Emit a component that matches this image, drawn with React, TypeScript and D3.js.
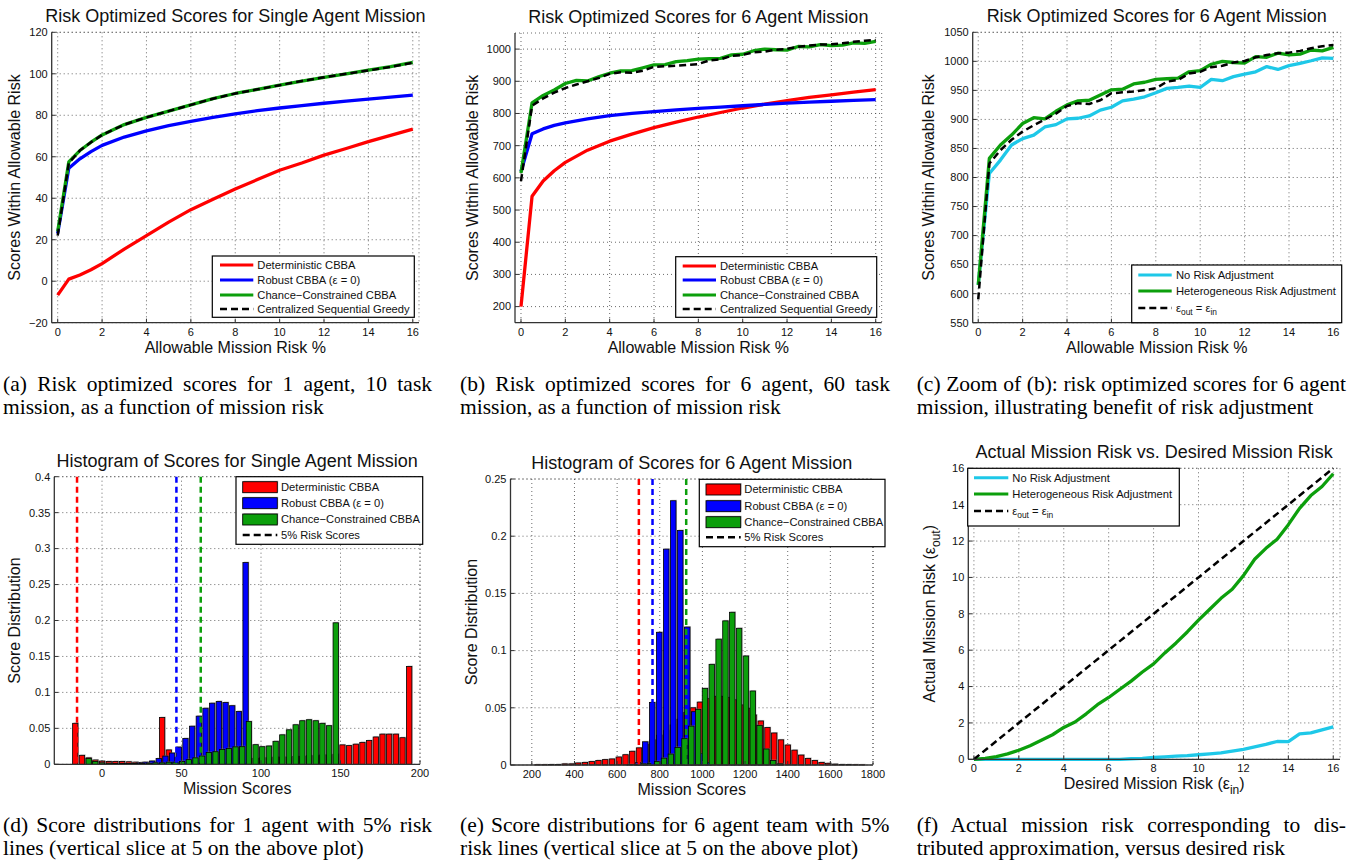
import React, { useLayoutEffect, useRef, useState } from "react"
import * as d3 from "d3"

const SANS = "'Liberation Sans', Arial, Helvetica, sans-serif"
const SERIF = "'Liberation Serif', 'Times New Roman', Times, serif"

const RED = "#ff0000"
const BLUE = "#0000ff"
const GREEN = "#0c9f0c"
const CYAN = "#1ec8e8"

// ---------- line plot data ----------
// coarse grid used for the smooth curves of (a) and (b)
const riskCoarse = [0, 0.5, 1, 1.5, 2, 3, 4, 5, 6, 7, 8, 9, 10, 11, 12, 13, 14, 15, 16]
// half-percent grid used for the jagged curves of (b), (c), (f)
const riskFine = [0, 0.5, 1, 1.5, 2, 2.5, 3, 3.5, 4, 4.5, 5, 5.5, 6, 6.5, 7, 7.5, 8, 8.5, 9, 9.5, 10, 10.5, 11, 11.5, 12, 12.5, 13, 13.5, 14, 14.5, 15, 15.5, 16]

// (a) single agent
const detCBBA1 = [-6.7, 1, 3, 5.5, 8.5, 15.5, 22, 28.5, 34.5, 39.5, 44.5, 49, 53.5, 57, 60.8, 64, 67.3, 70.3, 73.3]
const robCBBA1 = [23, 54.5, 59, 62.5, 65.5, 69.5, 72.5, 75, 77, 79, 80.7, 82.2, 83.5, 84.7, 85.8, 86.8, 87.8, 88.8, 89.7]
const ccCBBA1 = [24, 57.5, 63, 67, 70.5, 75.5, 79, 82, 85, 88, 90.5, 92.5, 94.5, 96.5, 98.3, 100, 101.8, 103.5, 105.5]
const csg1 = [22, 57, 63, 67, 70.5, 75.5, 79, 82, 85, 88, 90.5, 92.5, 94.5, 96.5, 98.3, 100, 101.6, 103.3, 105.3]

// (b) / (c) six agents
const detCBBA6 = [200, 543, 590, 622, 648, 686, 714, 736, 756, 773, 789, 803, 817, 829, 840, 850, 858, 866, 874]
const robCBBA6 = [620, 737, 752, 763, 771, 783, 793, 800, 806, 811, 816, 820, 824, 828, 832, 835, 838, 841, 843]
const ccCBBA6 = [615, 833, 856, 873, 893, 903, 901, 914, 925, 932, 933, 942, 951, 952, 961, 964, 969, 970, 971, 982, 984, 995, 1000, 998, 997, 1008, 1007, 1014, 1011, 1012.5, 1019.5, 1018, 1024]
const csg6 = [590, 824, 847, 865, 879, 890, 900, 910, 923, 928, 926.5, 933, 945, 946.7, 948, 950.6, 953.6, 965, 968, 979, 982, 990, 992.5, 998, 1000.6, 1007, 1011, 1014, 1015, 1018, 1022.5, 1026, 1028]
const noAdj6 = [615, 807, 830, 856, 867, 873, 887, 891, 901, 902, 906, 916, 921, 932, 935, 939, 946, 953.5, 955, 957.5, 955, 969, 966.7, 973.6, 978, 982, 991, 986, 992.6, 996.6, 1001, 1006, 1005]

// (f) actual vs desired risk
const noAdjRisk = [0, 0, 0, 0, 0, 0, 0, 0, 0, 0, 0, 0, 0, 0, 0.03, 0.05, 0.1, 0.13, 0.17, 0.2, 0.25, 0.3, 0.35, 0.45, 0.55, 0.68, 0.82, 0.98, 0.97, 1.4, 1.45, 1.62, 1.78]
const hetAdjRisk = [0, 0.05, 0.15, 0.3, 0.5, 0.75, 1.05, 1.35, 1.75, 2.05, 2.5, 3.0, 3.4, 3.85, 4.3, 4.8, 5.25, 5.85, 6.4, 7.0, 7.65, 8.25, 8.85, 9.35, 10.1, 11.0, 11.6, 12.1, 12.9, 13.8, 14.5, 15.0, 15.7]
const idealX = [0, 16]
const idealY = [0, 16]

// ---------- histogram data ----------
// (d) single agent: bins of width 4.2, first bin centre given
const binW1 = 4.2
const detStart1 = -16.8
const detHist1 = [0.057, 0.0125, 0.009, 0.006, 0.0045, 0.004, 0.004, 0.004, 0.0035, 0.003, 0.0025, 0.002, 0.003, 0.065, 0.02, 0.009,
  0.003, 0.005, 0.006, 0.007, 0.007, 0.008, 0.008, 0.008, 0.008, 0.008, 0.008, 0.008, 0.009, 0.009, 0.01, 0.01, 0.01, 0.011, 0.011, 0.012, 0.012, 0.013, 0.013, 0.014,
  0.027, 0.026, 0.028, 0.0305, 0.033, 0.038, 0.042, 0.042, 0.042, 0.037, 0.136]
const robStart1 = 14.7
const robHist1 = [0.001, 0.001, 0.002, 0.003, 0.0046, 0.008, 0.0115, 0.0157, 0.024, 0.036, 0.053, 0.067, 0.078, 0.085, 0.0875, 0.086, 0.0815, 0.0736, 0.2806]
const ccStart1 = -8.4
const ccHist1 = [0.008, 0.004, 0.002, 0.0015, 0.001, 0.001, 0.001, 0.001, 0.001, 0.0015, 0.002, 0.002, 0.003, 0.003, 0.004, 0.0065, 0.009, 0.0115,
  0.0165, 0.0175, 0.0205, 0.022, 0.0243, 0.0245, 0.0595, 0.0273, 0.0245, 0.0255, 0.032, 0.041, 0.048, 0.055, 0.0606, 0.062, 0.0606, 0.057, 0.0537, 0.1968]
const risk5Lines1 = [-15.7, 46.8, 62.1]

// (e) six agents
const detStart6 = 227.2
const detW6 = 31.7
const detHist6 = [0.0003, 0.0003, 0.0004, 0.0005, 0.001, 0.001, 0.0018, 0.0023, 0.003, 0.004, 0.0047, 0.0053, 0.007, 0.009, 0.012, 0.015, 0.018, 0.022, 0.026, 0.03,
  0.035, 0.04, 0.046, 0.05, 0.055, 0.058, 0.06, 0.06, 0.059, 0.057, 0.0525, 0.0496, 0.0437, 0.0385, 0.0327, 0.028, 0.022, 0.0175, 0.013, 0.0087,
  0.0058, 0.004, 0.0023, 0.0015, 0.0008, 0.0005, 0.0004, 0.0003, 0.0002]
const robStart6 = 699.2
const robW6 = 32.8
const robHist6 = [0.002, 0.0203, 0.0547, 0.116, 0.1887, 0.231, 0.205, 0.1206, 0.0466, 0.01, 0.002]
const ccStart6 = 660
const ccW6 = 32
const ccHist6 = [0.0003, 0.0006, 0.001, 0.0015, 0.003, 0.006, 0.0096, 0.0154, 0.023, 0.034, 0.0487, 0.067, 0.088, 0.11, 0.126, 0.1335, 0.1195, 0.0953, 0.0647, 0.0347, 0.014, 0.004, 0.001]
const risk5Lines6 = [702, 766, 924]

// ---------- ticks ----------
const riskTicks = [0, 2, 4, 6, 8, 10, 12, 14, 16]
const yTicksA = [-20, 0, 20, 40, 60, 80, 100, 120]
const yTicksB = [200, 300, 400, 500, 600, 700, 800, 900, 1000]
const yTicksC = [550, 600, 650, 700, 750, 800, 850, 900, 950, 1000, 1050]
const xTicksD = [0, 50, 100, 150, 200]
const yTicksD = [0, 0.05, 0.1, 0.15, 0.2, 0.25, 0.3, 0.35, 0.4]
const xTicksE = [200, 400, 600, 800, 1000, 1200, 1400, 1600, 1800]
const yTicksE = [0, 0.05, 0.1, 0.15, 0.2, 0.25]

const fmt = (v: number) => (v < 0 ? "\u2212" + Math.abs(v) : String(+v.toFixed(2)))

type Box = { l: number; r: number; t: number; b: number }
type Scale = d3.ScaleLinear<number, number>

function Grid({ box, x, y, xTicks, yTicks }: { box: Box; x: Scale; y: Scale; xTicks: number[]; yTicks: number[] }) {
  const dot = { stroke: "#444", strokeWidth: 0.8, strokeDasharray: "1,3" }
  return (
    <g>
      {xTicks.map((v) => (
        <line key={"gx" + v} x1={x(v)} x2={x(v)} y1={box.t} y2={box.b} {...dot} />
      ))}
      {yTicks.map((v) => (
        <line key={"gy" + v} x1={box.l} x2={box.r} y1={y(v)} y2={y(v)} {...dot} />
      ))}
      <line x1={box.l} x2={box.r} y1={box.t} y2={box.t} {...dot} />
      <line x1={box.r} x2={box.r} y1={box.t} y2={box.b} {...dot} />
    </g>
  )
}

function Axes({ box, x, y, xTicks, yTicks }: { box: Box; x: Scale; y: Scale; xTicks: number[]; yTicks: number[] }) {
  return (
    <g fontFamily={SANS} fontSize={11} fill="#111">
      <line x1={box.l} x2={box.r} y1={box.b} y2={box.b} stroke="#333" strokeWidth={1.3} />
      <line x1={box.l} x2={box.l} y1={box.t} y2={box.b} stroke="#333" strokeWidth={1.3} />
      {xTicks.map((v) => (
        <g key={"tx" + v}>
          <line x1={x(v)} x2={x(v)} y1={box.b} y2={box.b - 4} stroke="#333" />
          <text x={x(v)} y={box.b + 13} textAnchor="middle">
            {fmt(v)}
          </text>
        </g>
      ))}
      {yTicks.map((v) => (
        <g key={"ty" + v}>
          <line x1={box.l} x2={box.l + 4} y1={y(v)} y2={y(v)} stroke="#333" />
          <text x={box.l - 4} y={y(v)} dy="0.35em" textAnchor="end">
            {fmt(v)}
          </text>
        </g>
      ))}
    </g>
  )
}

function Labels({ box, title, xLabel, yLabel, yLabelX }: { box: Box; title: string; xLabel: React.ReactNode; yLabel: React.ReactNode; yLabelX: number }) {
  const cx = (box.l + box.r) / 2
  const cy = (box.t + box.b) / 2
  return (
    <g fontFamily={SANS} fill="#111">
      <text x={cx} y={box.t - 10} textAnchor="middle" fontSize={18}>
        {title}
      </text>
      <text x={cx} y={box.b + 30} textAnchor="middle" fontSize={16}>
        {xLabel}
      </text>
      <text transform={`translate(${yLabelX + 5},${cy}) rotate(-90)`} textAnchor="middle" fontSize={16}>
        {yLabel}
      </text>
    </g>
  )
}

type LegendRow = { label: React.ReactNode; color: string; dash?: boolean; patch?: boolean; y: number }
type LegendSpec = { x0: number; x1: number; y0: number; y1: number; sx0: number; sx1: number; tx: number; rows: LegendRow[] }

function Legend({ spec }: { spec: LegendSpec }) {
  return (
    <g fontFamily={SANS} fontSize={11.2} fill="#111">
      <rect x={spec.x0} y={spec.y0} width={spec.x1 - spec.x0} height={spec.y1 - spec.y0} fill="#fff" stroke="#000" strokeWidth={1.2} />
      {spec.rows.map((r, i) => (
        <g key={i}>
          {r.patch ? (
            <>
              <rect x={spec.sx0 + 1} y={r.y - 6} width={spec.sx1 - spec.sx0} height={11} fill="#999" opacity={0.5} />
              <rect x={spec.sx0} y={r.y - 5} width={spec.sx1 - spec.sx0} height={11} fill={r.color} stroke="#000" strokeWidth={0.9} />
            </>
          ) : (
            <line x1={spec.sx0} x2={spec.sx1} y1={r.y} y2={r.y} stroke={r.color} strokeWidth={r.dash ? 2.5 : 3} strokeDasharray={r.dash ? "7,4" : undefined} />
          )}
          <text x={spec.tx} y={r.y} dy="0.35em">
            {r.label}
          </text>
        </g>
      ))}
    </g>
  )
}

type Series = { xs: number[]; ys: number[]; color: string; dash?: boolean }

function LinePanel(props: {
  box: Box
  xDomain: [number, number]
  yDomain: [number, number]
  yTicks: number[]
  series: Series[]
  title: string
  xLabel: React.ReactNode
  yLabel: React.ReactNode
  yLabelX: number
  legend: LegendSpec
}) {
  const { box } = props
  const x = d3.scaleLinear().domain(props.xDomain).range([box.l, box.r])
  const y = d3.scaleLinear().domain(props.yDomain).range([box.b, box.t])
  return (
    <g>
      <Grid box={box} x={x} y={y} xTicks={riskTicks} yTicks={props.yTicks} />
      {props.series.map((s, i) => {
        const line = d3
          .line<number>()
          .x((_, j) => x(s.xs[j]))
          .y((d) => y(d))
        return (
          <path
            key={i}
            d={line(s.ys) ?? ""}
            fill="none"
            stroke={s.color}
            strokeWidth={s.dash ? 2.5 : 3.3}
            strokeDasharray={s.dash ? "7,4" : undefined}
            strokeLinejoin="round"
          />
        )
      })}
      <Axes box={box} x={x} y={y} xTicks={riskTicks} yTicks={props.yTicks} />
      <Labels box={box} title={props.title} xLabel={props.xLabel} yLabel={props.yLabel} yLabelX={props.yLabelX} />
      <Legend spec={props.legend} />
    </g>
  )
}

type Hist = { start: number; width: number; vals: number[]; color: string }

function HistPanel(props: {
  box: Box
  xDomain: [number, number]
  yDomain: [number, number]
  xTicks: number[]
  yTicks: number[]
  hists: Hist[]
  riskLines: number[]
  title: string
  yLabelX: number
  legend: LegendSpec
}) {
  const { box } = props
  const x = d3.scaleLinear().domain(props.xDomain).range([box.l, box.r])
  const y = d3.scaleLinear().domain(props.yDomain).range([box.b, box.t])
  return (
    <g>
      <Grid box={box} x={x} y={y} xTicks={props.xTicks} yTicks={props.yTicks} />
      {props.hists.map((h, k) => {
        const bw = 0.8 * (x(h.width) - x(0))
        return (
          <g key={k}>
            {h.vals.map((v, i) => {
              const cx = x(h.start + i * h.width)
              if (v <= 0) return null
              return (
                <g key={i}>
                  <rect x={cx - bw / 2 + 1} y={y(v) - 1} width={bw} height={y(0) - y(v)} fill="#888" opacity={0.45} />
                  <rect x={cx - bw / 2} y={y(v)} width={bw} height={y(0) - y(v)} fill={h.color} stroke="#000" strokeWidth={0.8} />
                </g>
              )
            })}
          </g>
        )
      })}
      {props.riskLines.map((v, i) => (
        <line
          key={"rl" + i}
          x1={x(v)}
          x2={x(v)}
          y1={box.t}
          y2={box.b}
          stroke={props.hists[i].color}
          strokeWidth={2.5}
          strokeDasharray="6,4"
        />
      ))}
      <Axes box={box} x={x} y={y} xTicks={props.xTicks} yTicks={props.yTicks} />
      <Labels box={box} title={props.title} xLabel="Mission Scores" yLabel="Score Distribution" yLabelX={props.yLabelX} />
      <Legend spec={props.legend} />
    </g>
  )
}

// first caption line is justified by stretching the word spaces
function Caption({ x, width, y, line1, line2 }: { x: number; width: number; y: number; line1: string; line2: string }) {
  const ref = useRef<SVGTextElement>(null)
  const [ws, setWs] = useState(0)
  useLayoutEffect(() => {
    if (!ref.current) return
    const natural = ref.current.getComputedTextLength()
    const gaps = line1.split(" ").length - 1
    setWs((width - natural) / gaps)
  }, [line1, width])
  return (
    <g fontFamily={SERIF} fontSize={21.5} fill="#000">
      <text ref={ref} x={x} y={y} style={{ wordSpacing: ws + "px" }}>
        {line1}
      </text>
      <text x={x} y={y + 23}>
        {line2}
      </text>
    </g>
  )
}

const epsLabel = (
  <>
    {"\u03b5"}
    <tspan dy={3} fontSize="0.75em">out</tspan>
    <tspan dy={-3}>{" = \u03b5"}</tspan>
    <tspan dy={3} fontSize="0.75em">in</tspan>
  </>
)

export default function App() {
  const lineLegendRows = (ys: number[]): LegendRow[] => [
    { label: "Deterministic CBBA", color: RED, y: ys[0] },
    { label: "Robust CBBA (\u03b5 = 0)", color: BLUE, y: ys[1] },
    { label: "Chance\u2212Constrained CBBA", color: GREEN, y: ys[2] },
    { label: "Centralized Sequential Greedy", color: "#000", dash: true, y: ys[3] },
  ]
  const adjRows = (ys: number[]): LegendRow[] => [
    { label: "No Risk Adjustment", color: CYAN, y: ys[0] },
    { label: "Heterogeneous Risk Adjustment", color: GREEN, y: ys[1] },
    { label: epsLabel, color: "#000", dash: true, y: ys[2] },
  ]
  const histRows = (ys: number[]): LegendRow[] => [
    { label: "Deterministic CBBA", color: RED, patch: true, y: ys[0] },
    { label: "Robust CBBA (\u03b5 = 0)", color: BLUE, patch: true, y: ys[1] },
    { label: "Chance\u2212Constrained CBBA", color: GREEN, patch: true, y: ys[2] },
    { label: "5% Risk Scores", color: "#000", dash: true, y: ys[3] },
  ]

  return (
    <svg width={1354} height={863} style={{ position: "absolute", left: 0, top: 0, background: "#fff" }}>
      <rect x={0} y={0} width={1354} height={863} fill="#fff" />

      <LinePanel
        box={{ l: 51.7, r: 419, t: 32.3, b: 322.7 }}
        xDomain={[-0.27, 16.28]}
        yDomain={[-20, 120]}
        yTicks={yTicksA}
        series={[
          { xs: riskCoarse, ys: detCBBA1, color: RED },
          { xs: riskCoarse, ys: robCBBA1, color: BLUE },
          { xs: riskCoarse, ys: ccCBBA1, color: GREEN },
          { xs: riskCoarse, ys: csg1, color: "#000", dash: true },
        ]}
        title="Risk Optimized Scores for Single Agent Mission"
        xLabel="Allowable Mission Risk %"
        yLabel="Scores Within Allowable Risk"
        yLabelX={15}
        legend={{ x0: 212.3, x1: 414.3, y0: 256, y1: 317.3, sx0: 220, sx1: 253.3, tx: 257.3, rows: lineLegendRows([265, 280, 295, 309]) }}
      />

      <LinePanel
        box={{ l: 515, r: 881.7, t: 33, b: 322.7 }}
        xDomain={[-0.27, 16.27]}
        yDomain={[150, 1050]}
        yTicks={yTicksB}
        series={[
          { xs: riskCoarse, ys: detCBBA6, color: RED },
          { xs: riskCoarse, ys: robCBBA6, color: BLUE },
          { xs: riskFine, ys: ccCBBA6, color: GREEN },
          { xs: riskFine, ys: csg6, color: "#000", dash: true },
        ]}
        title="Risk Optimized Scores for 6 Agent Mission"
        xLabel="Allowable Mission Risk %"
        yLabel="Scores Within Allowable Risk"
        yLabelX={472.7}
        legend={{ x0: 675.7, x1: 876.7, y0: 256.7, y1: 317.3, sx0: 682.7, sx1: 716, tx: 720, rows: lineLegendRows([266, 280, 295, 309]) }}
      />

      <LinePanel
        box={{ l: 972.7, r: 1340.7, t: 32.3, b: 322.7 }}
        xDomain={[-0.25, 16.33]}
        yDomain={[550, 1050]}
        yTicks={yTicksC}
        series={[
          { xs: riskFine, ys: noAdj6, color: CYAN },
          { xs: riskFine, ys: ccCBBA6, color: GREEN },
          { xs: riskFine, ys: csg6, color: "#000", dash: true },
        ]}
        title="Risk Optimized Scores for 6 Agent Mission"
        xLabel="Allowable Mission Risk %"
        yLabel="Scores Within Allowable Risk"
        yLabelX={929.3}
        legend={{ x0: 1131.7, x1: 1341.7, y0: 265, y1: 322.7, sx0: 1138.3, sx1: 1171.7, tx: 1176, rows: adjRows([275, 291, 308]) }}
      />

      <HistPanel
        box={{ l: 54.3, r: 420, t: 476.7, b: 764.3 }}
        xDomain={[-30, 200]}
        yDomain={[0, 0.4]}
        xTicks={xTicksD}
        yTicks={yTicksD}
        hists={[
          { start: detStart1, width: binW1, vals: detHist1, color: RED },
          { start: robStart1, width: binW1, vals: robHist1, color: BLUE },
          { start: ccStart1, width: binW1, vals: ccHist1, color: GREEN },
        ]}
        riskLines={risk5Lines1}
        title="Histogram of Scores for Single Agent Mission"
        yLabelX={15}
        legend={{ x0: 236, x1: 422.7, y0: 476.7, y1: 544.3, sx0: 242.7, sx1: 277.3, tx: 281, rows: histRows([486.7, 502.7, 519, 535]) }}
      />

      <HistPanel
        box={{ l: 510.5, r: 873, t: 479, b: 765 }}
        xDomain={[100, 1800]}
        yDomain={[0, 0.25]}
        xTicks={xTicksE}
        yTicks={yTicksE}
        hists={[
          { start: detStart6, width: detW6, vals: detHist6, color: RED },
          { start: robStart6, width: robW6, vals: robHist6, color: BLUE },
          { start: ccStart6, width: ccW6, vals: ccHist6, color: GREEN },
        ]}
        riskLines={risk5Lines6}
        title="Histogram of Scores for 6 Agent Mission"
        yLabelX={471.7}
        legend={{ x0: 699.3, x1: 885, y0: 479.3, y1: 546.7, sx0: 706, sx1: 740.7, tx: 744.3, rows: histRows([489, 505.7, 521.7, 537.3]) }}
      />

      <LinePanel
        box={{ l: 968.3, r: 1340, t: 468.3, b: 759.3 }}
        xDomain={[-0.25, 16.3]}
        yDomain={[0, 16]}
        yTicks={riskTicks}
        series={[
          { xs: riskFine, ys: noAdjRisk, color: CYAN },
          { xs: riskFine, ys: hetAdjRisk, color: GREEN },
          { xs: idealX, ys: idealY, color: "#000", dash: true },
        ]}
        title="Actual Mission Risk vs. Desired Mission Risk"
        xLabel={
          <>
            {"Desired Mission Risk (\u03b5"}
            <tspan dy={5} fontSize="0.75em">in</tspan>
            <tspan dy={-5}>)</tspan>
          </>
        }
        yLabel={
          <>
            {"Actual Mission Risk (\u03b5"}
            <tspan dy={5} fontSize="0.75em">out</tspan>
            <tspan dy={-5}>)</tspan>
          </>
        }
        yLabelX={930}
        legend={{ x0: 967.7, x1: 1179.3, y0: 468.3, y1: 526, sx0: 974, sx1: 1008.3, tx: 1012.3, rows: adjRows([477.7, 494, 511]) }}
      />

      <Caption x={3} width={429} y={391} line1="(a) Risk optimized scores for 1 agent, 10 task" line2="mission, as a function of mission risk" />
      <Caption x={460} width={430} y={391} line1="(b) Risk optimized scores for 6 agent, 60 task" line2="mission, as a function of mission risk" />
      <Caption x={916.7} width={429.3} y={391} line1="(c) Zoom of (b): risk optimized scores for 6 agent" line2="mission, illustrating benefit of risk adjustment" />
      <Caption x={3} width={429} y={832} line1="(d) Score distributions for 1 agent with 5% risk" line2="lines (vertical slice at 5 on the above plot)" />
      <Caption x={460} width={429.3} y={832} line1="(e) Score distributions for 6 agent team with 5%" line2="risk lines (vertical slice at 5 on the above plot)" />
      <Caption x={916.7} width={429.3} y={832} line1="(f) Actual mission risk corresponding to dis-" line2="tributed approximation, versus desired risk" />
    </svg>
  )
}
